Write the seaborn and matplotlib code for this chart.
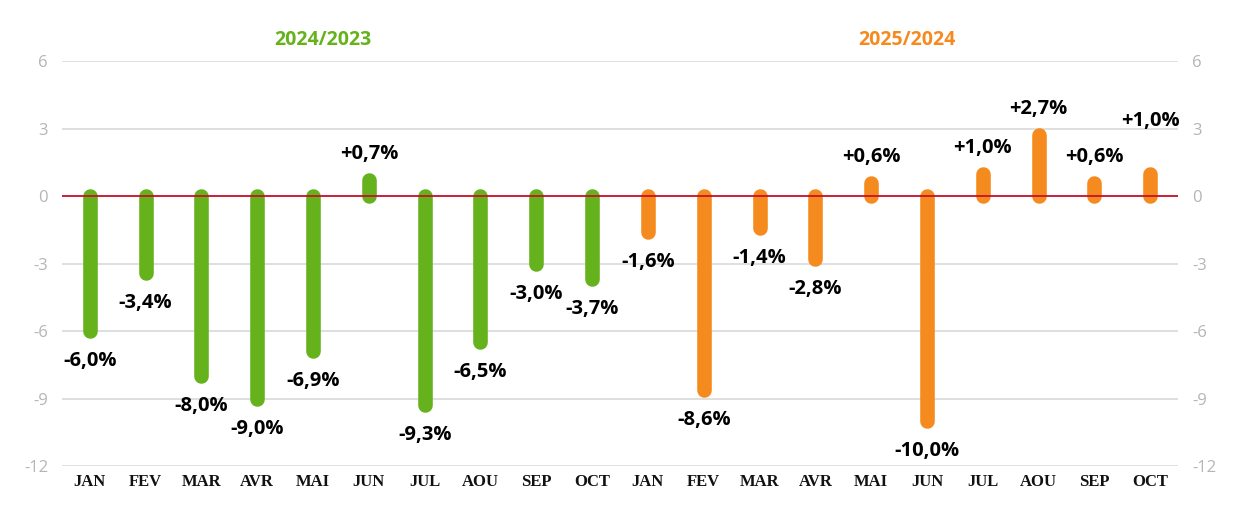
import matplotlib.pyplot as plt
import seaborn as sns
import pandas as pd

# Data
months = ["JAN", "FEV", "MAR", "AVR", "MAI", "JUN", "JUL", "AOU", "SEP", "OCT"]
values_2024 = [-6.0, -3.4, -8.0, -9.0, -6.9, 0.7, -9.3, -6.5, -3.0, -3.7]
values_2025 = [-1.6, -8.6, -1.4, -2.8, 0.6, -10.0, 1.0, 2.7, 0.6, 1.0]
periods = ["2024/2023", "2025/2024"]
yticks = [6, 3, 0, -3, -6, -9, -12]

green = "#66b21d"
orange = "#f58a1f"

df = pd.DataFrame({
    "month": months + months,
    "value": values_2024 + values_2025,
    "period": [periods[0]] * len(months) + [periods[1]] * len(months),
})
df["pos"] = range(len(df))

sns.set_theme(style="white")
plt.rcParams["font.family"] = ["Open Sans", "DejaVu Sans"]

fig = plt.figure(figsize=(12.44, 5.09), dpi=100)
ax = fig.add_axes([0.0498, 0.0845, 0.8972, 0.7955])

colors = {periods[0]: green, periods[1]: orange}

# grid
for t in yticks:
    ax.axhline(t, color="#d9d9d9", lw=1.2, zorder=0)

# rounded bars
for _, r in df.iterrows():
    ax.vlines(r["pos"], 0, r["value"], color=colors[r["period"]], lw=10.5,
              capstyle="round", zorder=2)

ax.axhline(0, color="#c8102e", lw=1.3, zorder=3)

# value labels (last label pushed up so it clears its neighbour)
for i, r in df.iterrows():
    v = r["value"]
    txt = ("+" if v > 0 else "") + f"{v:.1f}".replace(".", ",") + "%"
    off = 26 if v > 0 else -30
    if i == len(df) - 1:
        off = 53
    ax.annotate(txt, (r["pos"], v), xytext=(0, off), textcoords="offset pixels",
                ha="center", va="center", fontsize=14.5, fontweight="bold",
                color="black", zorder=4, annotation_clip=False)

ax.set_xlim(-0.5, len(df) - 0.5)
ax.set_ylim(-12, 6)
ax.set_xticks(df["pos"])
ax.set_xticklabels(df["month"], fontfamily="Liberation Serif", fontweight="bold",
                   fontsize=12, color="#111111")
ax.tick_params(axis="x", length=0, pad=6)

ax.set_yticks(yticks)
ax.set_yticklabels([str(t) for t in yticks], color="#b5b5b5", fontsize=12)
ax.tick_params(axis="y", length=0, pad=10, labelright=True, right=False)

for s in ax.spines.values():
    s.set_visible(False)

# period headers
fig.text(323 / 1244, 1 - 40 / 509, periods[0], color=green, fontsize=14,
         fontweight="bold", ha="center", va="center")
fig.text(907 / 1244, 1 - 40 / 509, periods[1], color=orange, fontsize=14,
         fontweight="bold", ha="center", va="center")

fig.savefig("out.png", dpi=100, facecolor="white")
